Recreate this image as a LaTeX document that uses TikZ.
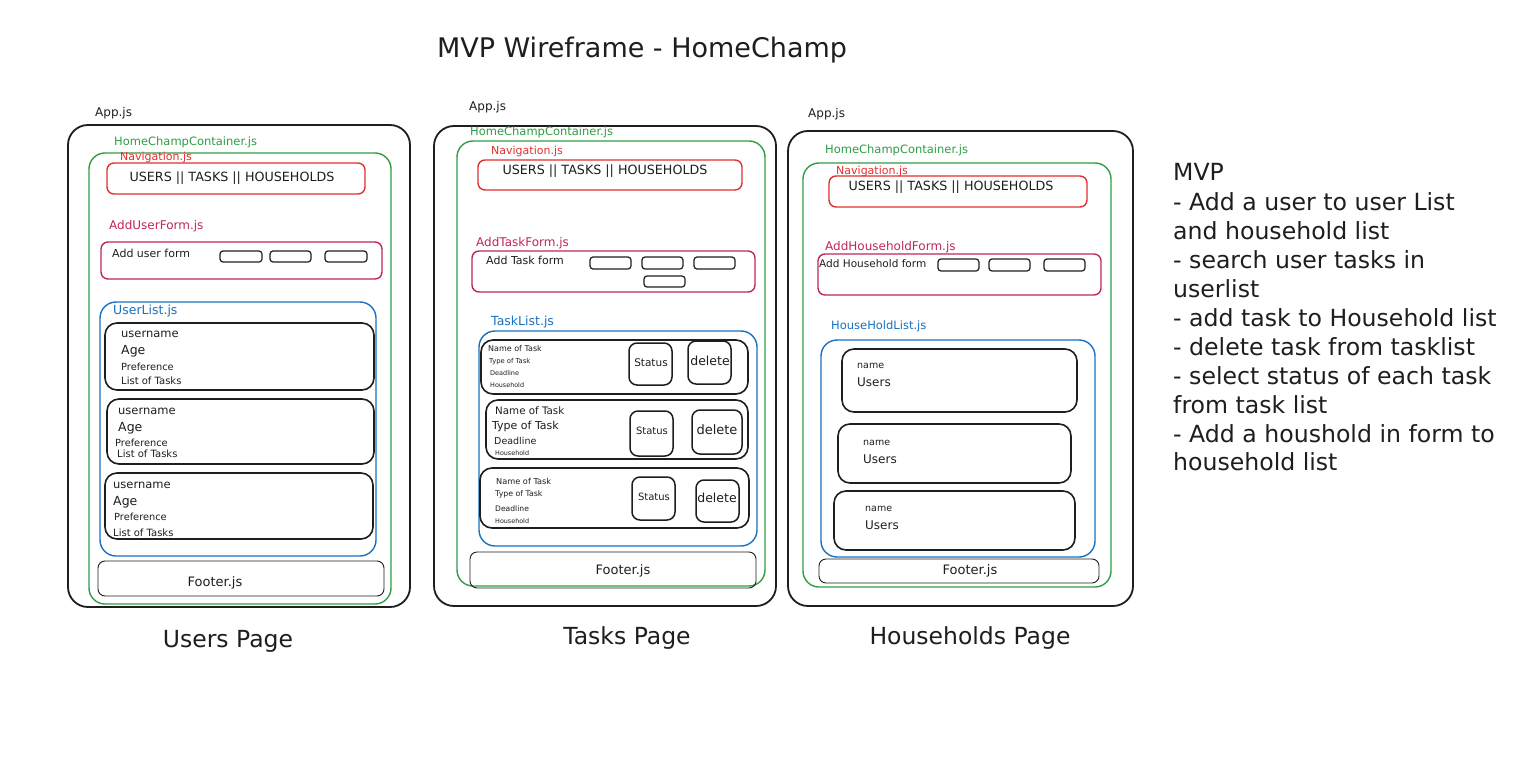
\documentclass[tikz,border=0pt]{standalone}
\usepackage{fontspec}
\setmainfont{DejaVu Sans}
\definecolor{cgreen}{HTML}{2F9E44}
\definecolor{cred}{HTML}{E03131}
\definecolor{ccrim}{HTML}{C2255C}
\definecolor{cblue}{HTML}{1971C2}
\definecolor{cink}{HTML}{1E1E1E}
\newcommand\fsz[1]{\fontsize{#1}{#1}\selectfont}
\begin{document}
\begin{tikzpicture}[x=1pt,y=-1pt,
  appbox/.style={draw=cink, line width=1.8pt, rounded corners=20pt},
  contbox/.style={draw=cgreen, line width=1.4pt, rounded corners=16pt},
  navbox/.style={draw=cred, line width=1.4pt, rounded corners=7pt},
  formbox/.style={draw=ccrim, line width=1.4pt, rounded corners=7pt},
  listbox/.style={draw=cblue, line width=1.4pt, rounded corners=16pt},
  card/.style={draw=cink, line width=1.6pt, rounded corners=12pt},
  btn/.style={draw=cink, line width=1.5pt, rounded corners=8pt},
  inbox/.style={draw=cink, line width=1.2pt, rounded corners=3pt},
  footbox/.style={draw=cink, line width=0.9pt, rounded corners=7pt},
  lbl/.style={inner sep=0pt, anchor=west, text=cink},
  ctr/.style={inner sep=0pt, text=cink},
  mvp/.style={inner sep=0pt, anchor=base west, text=cink, font=\fsz{23.6}}
]
\useasboundingbox[fill=white] (0,0) rectangle (1533,757);

% Title
\node[ctr,font=\fsz{27}] (title) at (642,50) {MVP Wireframe - HomeChamp};

% ================= Page 1: Users =================
\draw[appbox] (68,125) rectangle (410,607);
\node[lbl,font=\fsz{12}] (p1app) at (95,113) {App.js};
\draw[contbox] (89,153) rectangle (391,604);
\node[lbl,font=\fsz{11.5},text=cgreen] (p1cont) at (114,142) {HomeChampContainer.js};
\draw[navbox] (107,163) rectangle (365,194);
\node[lbl,font=\fsz{11},text=cred] (p1navl) at (120,157) {Navigation.js};
\node[ctr,font=\fsz{12.7}] (p1nav) at (232,178) {USERS || TASKS || HOUSEHOLDS};
\node[lbl,font=\fsz{12},text=ccrim] (p1forml) at (109,226) {AddUserForm.js};
\draw[formbox] (101,242) rectangle (382,279);
\node[lbl,font=\fsz{11}] (p1form) at (112,253) {Add user form};
\draw[inbox] (220,251) rectangle (262,262);
\draw[inbox] (270,251) rectangle (311,262);
\draw[inbox] (325,251) rectangle (367,262);
\draw[listbox] (100,302) rectangle (376,556);
\node[lbl,font=\fsz{12.5},text=cblue] (p1listl) at (113,311) {UserList.js};
% cards
\draw[card] (105,323) rectangle (374,390);
\node[lbl,font=\fsz{11.5}] (u1a) at (121,334) {username};
\node[lbl,font=\fsz{12.5}] (u1b) at (121,351) {Age};
\node[lbl,font=\fsz{9.8}] (u1c) at (121,367) {Preference};
\node[lbl,font=\fsz{10}] (u1d) at (121,381) {List of Tasks};
\draw[card] (107,399) rectangle (374,464);
\node[lbl,font=\fsz{11.5}] (u2a) at (118,411) {username};
\node[lbl,font=\fsz{12.5}] (u2b) at (118,428) {Age};
\node[lbl,font=\fsz{9.8}] (u2c) at (115,443) {Preference};
\node[lbl,font=\fsz{10}] (u2d) at (117,454) {List of Tasks};
\draw[card] (105,473) rectangle (373,539);
\node[lbl,font=\fsz{11.5}] (u3a) at (113,485) {username};
\node[lbl,font=\fsz{12.5}] (u3b) at (113,502) {Age};
\node[lbl,font=\fsz{9.8}] (u3c) at (114,517) {Preference};
\node[lbl,font=\fsz{10}] (u3d) at (113,533) {List of Tasks};
\draw[footbox] (98,561) rectangle (384,596);
\node[ctr,font=\fsz{13}] (p1foot) at (215,583) {Footer.js};
\node[ctr,font=\fsz{23.5}] (p1page) at (228,641) {Users Page};

% ================= Page 2: Tasks =================
\draw[appbox] (434,126) rectangle (776,606);
\node[lbl,font=\fsz{12}] (p2app) at (469,107) {App.js};
\draw[contbox] (457,141) rectangle (765,586);
\node[lbl,font=\fsz{11.5},text=cgreen] (p2cont) at (470,132) {HomeChampContainer.js};
\draw[navbox] (478,160) rectangle (742,190);
\node[lbl,font=\fsz{11},text=cred] (p2navl) at (491,151) {Navigation.js};
\node[ctr,font=\fsz{12.7}] (p2nav) at (605,171) {USERS || TASKS || HOUSEHOLDS};
\node[lbl,font=\fsz{12},text=ccrim] (p2forml) at (476,243) {AddTaskForm.js};
\draw[formbox] (472,251) rectangle (755,292);
\node[lbl,font=\fsz{11}] (p2form) at (486,260) {Add Task form};
\draw[inbox] (590,257) rectangle (631,269);
\draw[inbox] (642,257) rectangle (683,269);
\draw[inbox] (694,257) rectangle (735,269);
\draw[inbox] (644,276) rectangle (685,287);
\node[lbl,font=\fsz{12.5},text=cblue] (p2listl) at (491,322) {TaskList.js};
\draw[listbox] (479,331) rectangle (757,546);
% task card 1
\draw[card] (481,340) rectangle (748,394);
\node[lbl,font=\fsz{8}] (t1a) at (488,349) {Name of Task};
\node[lbl,font=\fsz{6.8}] (t1b) at (489,362) {Type of Task};
\node[lbl,font=\fsz{6.5}] (t1c) at (490,373) {Deadline};
\node[lbl,font=\fsz{6.4}] (t1d) at (490,385) {Household};
\draw[btn] (629,343) rectangle (672,385);
\node[ctr,font=\fsz{10.5}] (t1s) at (651,363) {Status};
\draw[btn] (688,341) rectangle (731,384);
\node[ctr,font=\fsz{12.5}] (t1x) at (710,361) {delete};
% task card 2
\draw[card] (486,400) rectangle (748,459);
\node[lbl,font=\fsz{10.3}] (t2a) at (495,411) {Name of Task};
\node[lbl,font=\fsz{11}] (t2b) at (492,426) {Type of Task};
\node[lbl,font=\fsz{9.5}] (t2c) at (494,441) {Deadline};
\node[lbl,font=\fsz{6.4}] (t2d) at (495,453) {Household};
\draw[btn] (630,411) rectangle (673,456);
\node[ctr,font=\fsz{10}] (t2s) at (652,431) {Status};
\draw[btn] (692,410) rectangle (742,454);
\node[ctr,font=\fsz{13}] (t2x) at (717,430) {delete};
% task card 3
\draw[card] (480,468) rectangle (749,528);
\node[lbl,font=\fsz{8.2}] (t3a) at (496,481) {Name of Task};
\node[lbl,font=\fsz{7.8}] (t3b) at (495,494) {Type of Task};
\node[lbl,font=\fsz{7.6}] (t3c) at (495,509) {Deadline};
\node[lbl,font=\fsz{6.4}] (t3d) at (495,521) {Household};
\draw[btn] (632,477) rectangle (675,520);
\node[ctr,font=\fsz{10}] (t3s) at (654,497) {Status};
\draw[btn] (696,480) rectangle (739,522);
\node[ctr,font=\fsz{12.5}] (t3x) at (717,498) {delete};
\draw[footbox] (470,552) rectangle (756,588);
\node[ctr,font=\fsz{13}] (p2foot) at (623,571) {Footer.js};
\node[ctr,font=\fsz{23.5}] (p2page) at (627,638) {Tasks Page};

% ================= Page 3: Households =================
\draw[appbox] (788,131) rectangle (1133,606);
\node[lbl,font=\fsz{12}] (p3app) at (808,114) {App.js};
\draw[contbox] (803,163) rectangle (1111,587);
\node[lbl,font=\fsz{11.5},text=cgreen] (p3cont) at (825,150) {HomeChampContainer.js};
\draw[navbox] (829,176) rectangle (1087,207);
\node[lbl,font=\fsz{11},text=cred] (p3navl) at (836,171) {Navigation.js};
\node[ctr,font=\fsz{12.7}] (p3nav) at (951,187) {USERS || TASKS || HOUSEHOLDS};
\node[lbl,font=\fsz{12},text=ccrim] (p3forml) at (825,247) {AddHouseholdForm.js};
\draw[formbox] (818,254) rectangle (1101,295);
\node[lbl,font=\fsz{10.5}] (p3form) at (819,264) {Add Household form};
\draw[inbox] (938,259) rectangle (979,271);
\draw[inbox] (989,259) rectangle (1030,271);
\draw[inbox] (1044,259) rectangle (1085,271);
\node[lbl,font=\fsz{11.5},text=cblue] (p3listl) at (831,326) {HouseHoldList.js};
\draw[listbox] (821,340) rectangle (1095,557);
\draw[card] (842,349) rectangle (1077,412);
\node[lbl,font=\fsz{9.5}] (h1a) at (857,366) {name};
\node[lbl,font=\fsz{12}] (h1b) at (857,382) {Users};
\draw[card] (838,424) rectangle (1071,483);
\node[lbl,font=\fsz{9.5}] (h2a) at (863,443) {name};
\node[lbl,font=\fsz{12}] (h2b) at (863,459) {Users};
\draw[card] (834,491) rectangle (1075,550);
\node[lbl,font=\fsz{9.5}] (h3a) at (865,509) {name};
\node[lbl,font=\fsz{12}] (h3b) at (865,525) {Users};
\draw[footbox] (819,559) rectangle (1099,583);
\node[ctr,font=\fsz{13}] (p3foot) at (970,571) {Footer.js};
\node[ctr,font=\fsz{23.5}] (p3page) at (970,638) {Households Page};

% ================= MVP list =================
\node[mvp] (m0) at (1173,180) {MVP};
\node[mvp] (m1) at (1173,210) {- Add a user to user List};
\node[mvp] (m2) at (1173,239) {and household list};
\node[mvp] (m3) at (1173,268) {- search user tasks in};
\node[mvp] (m4) at (1173,297) {userlist};
\node[mvp] (m5) at (1173,326) {- add task to Household list};
\node[mvp] (m6) at (1173,355) {- delete task from tasklist};
\node[mvp] (m7) at (1173,384) {- select status of each task};
\node[mvp] (m8) at (1173,413) {from task list};
\node[mvp] (m9) at (1173,442) {- Add a houshold in form to};
\node[mvp] (m10) at (1173,470) {household list};
\end{tikzpicture}
\end{document}
